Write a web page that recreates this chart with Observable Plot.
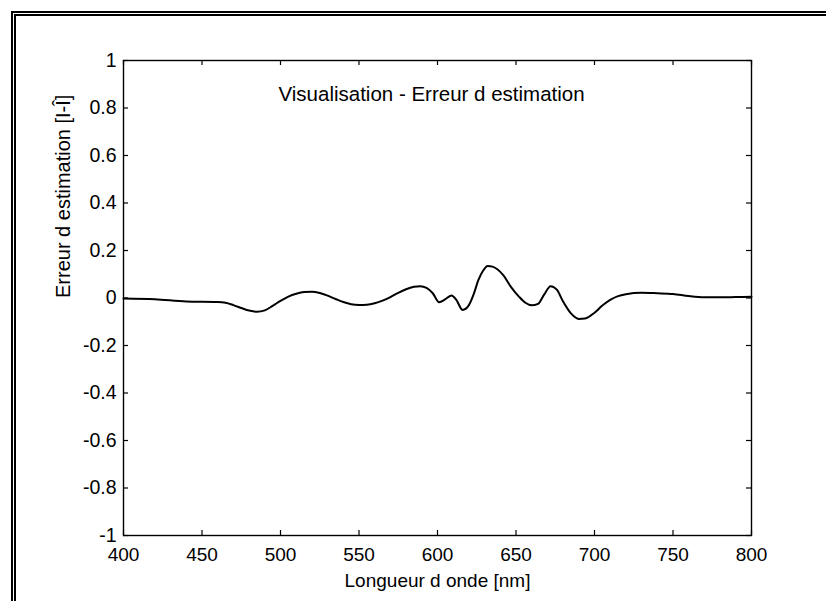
<!DOCTYPE html>
<html>
<head>
<meta charset="utf-8">
<script src="https://cdn.jsdelivr.net/npm/d3@7"></script>
<script src="https://cdn.jsdelivr.net/npm/@observablehq/plot@0.6"></script>
<style>
  html, body { margin: 0; padding: 0; background: #fff; }
  #wrap { position: relative; width: 826px; height: 601px; overflow: hidden; }
  #border { position: absolute; left: 11px; top: 11px; right: -10px; bottom: -10px;
            border-left: 5px double #000; border-top: 5px double #000; pointer-events: none; }
  svg { display: block; }
</style>
</head>
<body>
<div id="wrap"><div id="border"></div></div>
<script>
const wavelength = [400,420,440,460,465,470,475,480,485,490,495,500,505,510,515,520,525,530,535,540,545,550,555,560,565,570,575,580,585,589,593,597,601,605,609,612,616,620,623,626,629,632,635,642,647,652,656,660,664,668,672,676,680,685,690,694,700,705,710,715,720,730,740,750,760,770,780,790,800];
const errorValues = [-0.002,-0.005,-0.015,-0.017,-0.02,-0.03,-0.042,-0.053,-0.058,-0.052,-0.033,-0.012,0.006,0.018,0.025,0.026,0.021,0.010,-0.004,-0.017,-0.026,-0.029,-0.028,-0.022,-0.011,0.004,0.022,0.037,0.047,0.050,0.043,0.020,-0.018,-0.005,0.011,-0.008,-0.050,-0.030,0.015,0.075,0.115,0.135,0.132,0.095,0.045,0.005,-0.020,-0.031,-0.025,0.015,0.050,0.035,-0.015,-0.065,-0.088,-0.086,-0.062,-0.032,-0.008,0.008,0.016,0.022,0.020,0.017,0.008,0.003,0.003,0.004,0.005];
const xTicks = [400,450,500,550,600,650,700,750,800];
const yTicks = [-1,-0.8,-0.6,-0.4,-0.2,0,0.2,0.4,0.6,0.8,1];
const titleText = "Visualisation - Erreur d estimation";
const xLabel = "Longueur d onde [nm]";
const yLabel = "Erreur d estimation [I-Î]";

const data = wavelength.map((w, i) => ({w, e: errorValues[i]}));

const W = 826, H = 601, mL = 123, mR = 75, mT = 60, mB = 66;
const innerW = W - mL - mR, innerH = H - mT - mB;
const tl = 5;
const font = "'Liberation Sans', Arial, sans-serif";

const chart = Plot.plot({
  width: W, height: H,
  marginLeft: mL, marginRight: mR, marginTop: mT, marginBottom: mB,
  style: {fontFamily: font, fontSize: "19px", color: "#000", background: "transparent"},
  x: {domain: [400, 800]},
  y: {domain: [-1, 1]},
  marks: [
    Plot.frame({stroke: "#000", strokeWidth: 1.4}),
    Plot.tickX(xTicks, {x: d => d, insetTop: innerH - tl, stroke: "#000", strokeWidth: 1.2}),
    Plot.tickX(xTicks, {x: d => d, insetBottom: innerH - tl, stroke: "#000", strokeWidth: 1.2}),
    Plot.tickY(yTicks, {y: d => d, insetRight: innerW - tl, stroke: "#000", strokeWidth: 1.2}),
    Plot.tickY(yTicks, {y: d => d, insetLeft: innerW - tl, stroke: "#000", strokeWidth: 1.2}),
    Plot.axisX({ticks: xTicks, tickSize: 0, tickPadding: 12, tickFormat: d => String(d), label: null, fill: "#000", fontSize: 19}),
    Plot.axisY({ticks: yTicks, tickSize: 0, tickPadding: 7, tickFormat: d => String(d), label: null, fill: "#000", fontSize: 19.5}),
    Plot.line(data, {x: "w", y: "e", stroke: "#000", strokeWidth: 2, curve: "monotone-x"}),
    Plot.text([titleText], {frameAnchor: "top-left", dx: 155, dy: 26, textAnchor: "start", text: d => d, fontSize: 20.5, fill: "#000"}),
    Plot.text([xLabel], {frameAnchor: "bottom", dy: 51, text: d => d, fontSize: 19, fill: "#000"}),
    Plot.text([yLabel], {frameAnchor: "left", dx: -60, rotate: -90, text: d => d, fontSize: 20, fill: "#000"})
  ]
});
document.getElementById("wrap").prepend(chart);
</script>
</body>
</html>
